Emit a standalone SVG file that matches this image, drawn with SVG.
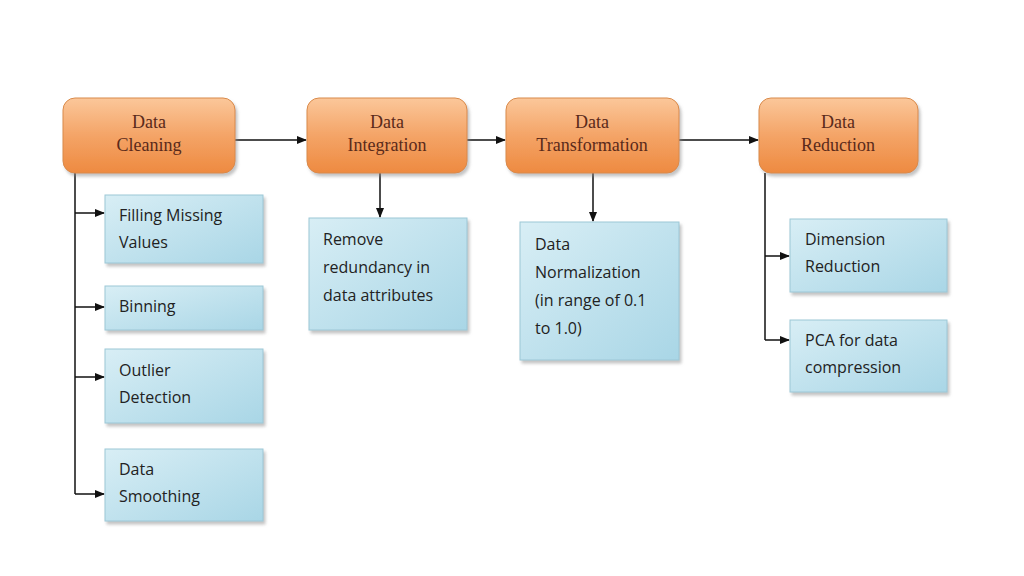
<svg xmlns="http://www.w3.org/2000/svg" width="1024" height="576" viewBox="0 0 1024 576">
<style>
.o{fill:url(#og);stroke:#d98a4a;stroke-width:1}
.b{fill:url(#bg);stroke:#9cc7d6;stroke-width:1}
.ot{font-family:"Liberation Serif",serif;font-size:18px;fill:#5a2a1a;text-anchor:middle}
.bt{font-family:"Open Sans","Liberation Sans",sans-serif;font-size:16px;fill:#222}
.c{stroke:#111;stroke-width:1.5;fill:none}
</style>
<defs>
<linearGradient id="og" x1="0" y1="0" x2="0" y2="1"><stop offset="0" stop-color="#fbc79a"/><stop offset="0.5" stop-color="#f4a467"/><stop offset="1" stop-color="#ee8a40"/></linearGradient>
<linearGradient id="bg" x1="0" y1="0" x2="1" y2="1"><stop offset="0" stop-color="#d8eef5"/><stop offset="1" stop-color="#a9d6e6"/></linearGradient>
<marker id="a" markerWidth="10" markerHeight="10" refX="9" refY="5" orient="auto" markerUnits="userSpaceOnUse"><path d="M0,1 L10,5 L0,9 z" fill="#111"/></marker>
<filter id="s" x="-10%" y="-10%" width="130%" height="130%"><feDropShadow dx="2" dy="3" stdDeviation="1.5" flood-color="#888" flood-opacity="0.5"/></filter>
</defs>
<rect width="1024" height="576" fill="#fff"/>
<g id="connectors">
<path class="c" d="M235,140 H306" marker-end="url(#a)"/>
<path class="c" d="M467,140 H505" marker-end="url(#a)"/>
<path class="c" d="M679,140 H758" marker-end="url(#a)"/>
<path class="c" d="M75,173 V494"/>
<path class="c" d="M75,213 H104" marker-end="url(#a)"/>
<path class="c" d="M75,307 H104" marker-end="url(#a)"/>
<path class="c" d="M75,377 H104" marker-end="url(#a)"/>
<path class="c" d="M75,494 H104" marker-end="url(#a)"/>
<path class="c" d="M380,173 V217" marker-end="url(#a)"/>
<path class="c" d="M593,173 V221" marker-end="url(#a)"/>
<path class="c" d="M765,173 V340"/>
<path class="c" d="M765,256 H789" marker-end="url(#a)"/>
<path class="c" d="M765,340 H789" marker-end="url(#a)"/>
</g>
<g id="cleaning"><rect class="o" filter="url(#s)" x="63" y="98" width="172" height="75" rx="12"/><text class="ot" x="149" y="128">Data</text><text class="ot" x="149" y="151">Cleaning</text></g>
<g id="integration"><rect class="o" filter="url(#s)" x="307" y="98" width="160" height="75" rx="12"/><text class="ot" x="387" y="128">Data</text><text class="ot" x="387" y="151">Integration</text></g>
<g id="transformation"><rect class="o" filter="url(#s)" x="506" y="98" width="173" height="75" rx="12"/><text class="ot" x="592" y="128">Data</text><text class="ot" x="592" y="151">Transformation</text></g>
<g id="reduction"><rect class="o" filter="url(#s)" x="759" y="98" width="159" height="75" rx="12"/><text class="ot" x="838" y="128">Data</text><text class="ot" x="838" y="151">Reduction</text></g>
<g id="filling"><rect class="b" filter="url(#s)" x="105" y="195" width="158" height="68"/><text class="bt" x="119" y="221">Filling Missing</text><text class="bt" x="119" y="248">Values</text></g>
<g id="binning"><rect class="b" filter="url(#s)" x="105" y="286" width="158" height="44"/><text class="bt" x="119" y="312">Binning</text></g>
<g id="outlier"><rect class="b" filter="url(#s)" x="105" y="349" width="158" height="74"/><text class="bt" x="119" y="376">Outlier</text><text class="bt" x="119" y="403">Detection</text></g>
<g id="smoothing"><rect class="b" filter="url(#s)" x="105" y="449" width="158" height="72"/><text class="bt" x="119" y="475">Data</text><text class="bt" x="119" y="502">Smoothing</text></g>
<g id="redundancy"><rect class="b" filter="url(#s)" x="309" y="218" width="158" height="112"/><text class="bt" x="323" y="245">Remove</text><text class="bt" x="323" y="273">redundancy in</text><text class="bt" x="323" y="301">data attributes</text></g>
<g id="normalization"><rect class="b" filter="url(#s)" x="520" y="222" width="159" height="138"/><text class="bt" x="535" y="250">Data</text><text class="bt" x="535" y="278">Normalization</text><text class="bt" x="535" y="306">(in range of 0.1</text><text class="bt" x="535" y="334">to 1.0)</text></g>
<g id="dimension"><rect class="b" filter="url(#s)" x="790" y="219" width="157" height="73"/><text class="bt" x="805" y="245">Dimension</text><text class="bt" x="805" y="272">Reduction</text></g>
<g id="pca"><rect class="b" filter="url(#s)" x="790" y="320" width="157" height="72"/><text class="bt" x="805" y="346">PCA for data</text><text class="bt" x="805" y="373">compression</text></g>
</svg>
